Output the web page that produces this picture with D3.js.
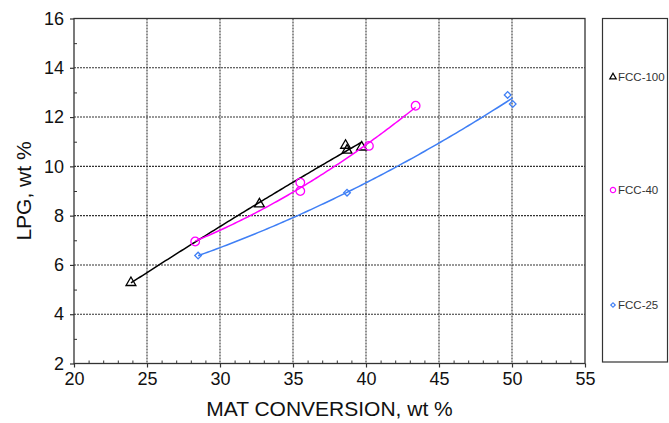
<!DOCTYPE html>
<html><head><meta charset="utf-8">
<script src="https://cdn.jsdelivr.net/npm/d3@7"></script>
<style>
body{margin:0;background:#fff}
text{font-family:"Liberation Sans",Arial,sans-serif}
</style>
</head><body>
<svg id="chart" width="669" height="423"></svg>
<script>
// Measured LPG yield vs MAT conversion for three catalyst loadings
const seriesNames = ["FCC-100", "FCC-40", "FCC-25"];
const fcc100X = [23.9, 32.7, 38.6, 38.7, 39.7];
const fcc100Y = [5.28, 8.47, 10.85, 10.65, 10.78];
const fcc40X = [28.3, 35.5, 35.5, 40.2, 43.4];
const fcc40Y = [6.95, 9.34, 9.0, 10.83, 12.46];
const fcc25X = [28.5, 38.7, 49.7, 50.05];
const fcc25Y = [6.38, 8.93, 12.9, 12.53];
const xTicks = [20, 25, 30, 35, 40, 45, 50, 55];
const yTicks = [2, 4, 6, 8, 10, 12, 14, 16];

const series = [
  {name: seriesNames[0], xs: fcc100X, ys: fcc100Y, color: "#000000", marker: "triangle"},
  {name: seriesNames[1], xs: fcc40X, ys: fcc40Y, color: "#ff00ff", marker: "circle"},
  {name: seriesNames[2], xs: fcc25X, ys: fcc25Y, color: "#3f7ff5", marker: "diamond"}
];

const svg = d3.select("#chart");
const plot = {left: 74, right: 585, top: 18.5, bottom: 363.5};

const x = d3.scaleLinear().domain([20, 55]).range([plot.left, plot.right]);
const y = d3.scaleLinear().domain([2, 16]).range([plot.bottom, plot.top]);

// grid
const grid = svg.append("g").attr("stroke", "#333").attr("stroke-width", 1.1).attr("stroke-dasharray", "2,1");
grid.selectAll("line.gx").data(xTicks.slice(1, -1)).join("line")
  .attr("x1", d => x(d)).attr("x2", d => x(d)).attr("y1", plot.top).attr("y2", plot.bottom);
grid.selectAll("line.gy").data(yTicks.slice(1, -1)).join("line")
  .attr("y1", d => y(d)).attr("y2", d => y(d)).attr("x1", plot.left).attr("x2", plot.right);

// minor ticks (inside)
const xMinor = d3.range(21, 55, 1).filter(v => v % 5 !== 0);
const yMinor = d3.range(3, 16, 2);
svg.append("g").attr("transform", `translate(0,${plot.bottom})`)
  .call(d3.axisBottom(x).tickValues(xMinor).tickSize(-3).tickSizeOuter(0).tickFormat(""))
  .call(g => g.select(".domain").remove())
  .selectAll("line").attr("stroke", "#333");
svg.append("g").attr("transform", `translate(${plot.left},0)`)
  .call(d3.axisLeft(y).tickValues(yMinor).tickSize(-3).tickSizeOuter(0).tickFormat(""))
  .call(g => g.select(".domain").remove())
  .selectAll("line").attr("stroke", "#333");

// major axes
const xAxis = svg.append("g").attr("transform", `translate(0,${plot.bottom})`)
  .call(d3.axisBottom(x).tickValues(xTicks).tickSizeInner(4).tickSizeOuter(0).tickPadding(5));
xAxis.select(".domain").remove();
xAxis.selectAll("line").attr("stroke", "#333").attr("stroke-width", 1.2);
xAxis.selectAll("text").attr("font-size", 18).attr("fill", "#111")
  .attr("font-family", "'Liberation Sans', Arial, sans-serif");

const yAxis = svg.append("g").attr("transform", `translate(${plot.left},0)`)
  .call(d3.axisLeft(y).tickValues(yTicks).tickSizeInner(4).tickSizeOuter(0).tickPadding(6));
yAxis.select(".domain").remove();
yAxis.selectAll("line").attr("stroke", "#333").attr("stroke-width", 1.2);
yAxis.selectAll("text").attr("font-size", 18).attr("fill", "#111")
  .attr("font-family", "'Liberation Sans', Arial, sans-serif");

// frame
svg.append("rect").attr("x", plot.left).attr("y", plot.top)
  .attr("width", plot.right - plot.left).attr("height", plot.bottom - plot.top)
  .attr("fill", "none").attr("stroke", "#333").attr("stroke-width", 1.3);

// axis titles
svg.append("text").attr("x", (plot.left + plot.right) / 2).attr("y", 416)
  .attr("text-anchor", "middle").attr("font-size", 21).attr("fill", "#111")
  .text("MAT CONVERSION, wt %");
svg.append("text").attr("transform", `translate(31,${(plot.top + plot.bottom) / 2}) rotate(-90)`)
  .attr("text-anchor", "middle").attr("font-size", 21).attr("fill", "#111")
  .text("LPG, wt %");

// second-order least-squares trend line
function quadFit(xs, ys) {
  const n = xs.length;
  let s = [0, 0, 0, 0, 0], t = [0, 0, 0];
  for (let i = 0; i < n; i++) {
    let p = 1;
    for (let k = 0; k < 5; k++) { s[k] += p; if (k < 3) t[k] += p * ys[i]; p *= xs[i]; }
  }
  const A = [[s[0], s[1], s[2], t[0]], [s[1], s[2], s[3], t[1]], [s[2], s[3], s[4], t[2]]];
  for (let c = 0; c < 3; c++) {
    let piv = c;
    for (let r = c + 1; r < 3; r++) if (Math.abs(A[r][c]) > Math.abs(A[piv][c])) piv = r;
    [A[c], A[piv]] = [A[piv], A[c]];
    for (let r = 0; r < 3; r++) {
      if (r === c) continue;
      const f = A[r][c] / A[c][c];
      for (let k = c; k < 4; k++) A[r][k] -= f * A[c][k];
    }
  }
  const a = A.map((row, i) => row[3] / row[i]);
  return v => a[0] + a[1] * v + a[2] * v * v;
}

const line = d3.line().x(d => x(d[0])).y(d => y(d[1])).curve(d3.curveLinear);
const markerPath = {
  triangle: d3.symbol().type(d3.symbolTriangle).size(42),
  circle: d3.symbol().type(d3.symbolCircle).size(58),
  diamond: d3.symbol().type(d3.symbolSquare).size(22)
};
const legendMarker = {
  triangle: d3.symbol().type(d3.symbolTriangle).size(18),
  circle: d3.symbol().type(d3.symbolCircle).size(22),
  diamond: d3.symbol().type(d3.symbolSquare).size(10)
};

series.forEach(s => {
  const f = quadFit(s.xs, s.ys);
  const x0 = d3.min(s.xs), x1 = d3.max(s.xs);
  const pts = d3.range(0, 101).map(i => { const v = x0 + (x1 - x0) * i / 100; return [v, f(v)]; });
  svg.append("path").datum(pts).attr("d", line)
    .attr("fill", "none").attr("stroke", s.color).attr("stroke-width", 1.5);
  svg.append("g").selectAll("path").data(s.xs.map((v, i) => [v, s.ys[i]])).join("path")
    .attr("d", markerPath[s.marker])
    .attr("transform", d => `translate(${x(d[0])},${y(d[1])})` + (s.marker === "diamond" ? " rotate(45)" : ""))
    .attr("fill", "none").attr("stroke", s.color).attr("stroke-width", 1.3);
});

// legend
const lg = svg.append("g");
lg.append("rect").attr("x", 602.5).attr("y", 18.5).attr("width", 65).attr("height", 343.5)
  .attr("fill", "none").attr("stroke", "#333").attr("stroke-width", 1.2);
const legendY = [77, 190, 305];
series.forEach((s, i) => {
  lg.append("path").attr("d", legendMarker[s.marker])
    .attr("transform", `translate(613,${legendY[i]})` + (s.marker === "diamond" ? " rotate(45)" : ""))
    .attr("fill", "none").attr("stroke", s.color).attr("stroke-width", 1.2);
  lg.append("text").attr("x", 618).attr("y", legendY[i] + 4)
    .attr("font-size", 11.5).attr("fill", "#333").text(s.name);
});
</script>
</body></html>
